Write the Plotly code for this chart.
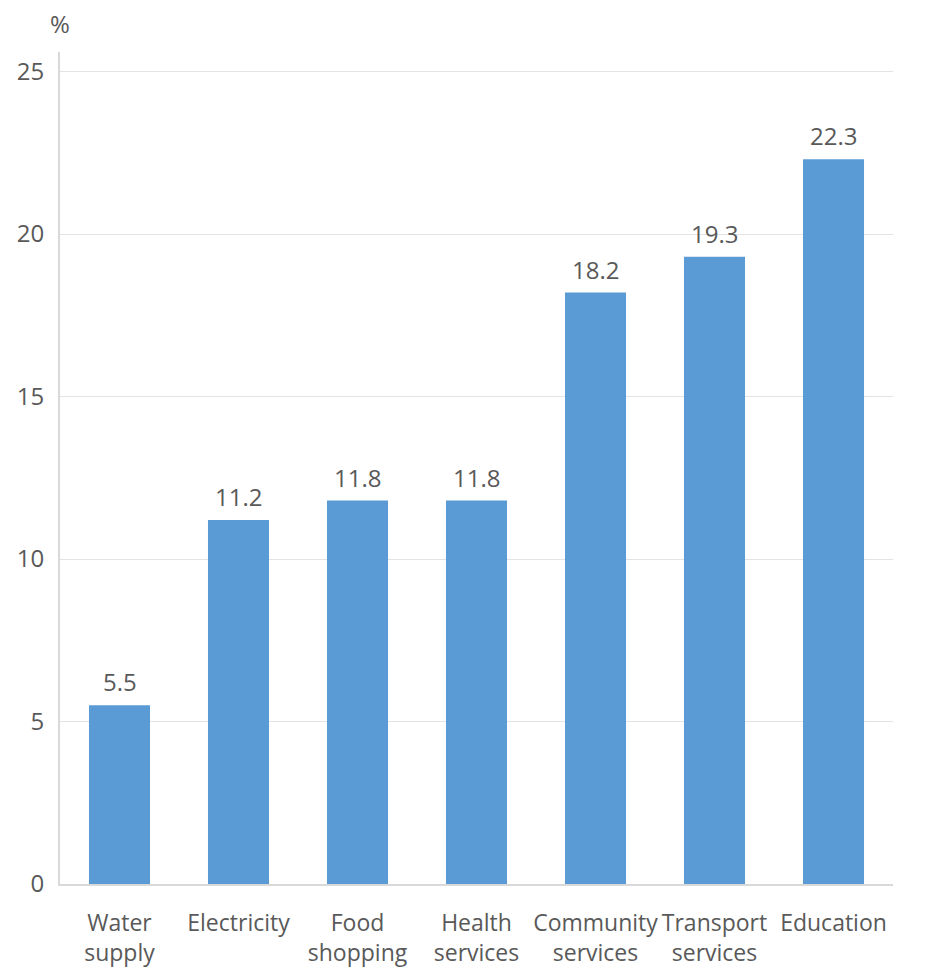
import plotly.graph_objects as go

# Share of respondents reporting each service problem (%)
categories = ["Water<br>supply", "Electricity", "Food<br>shopping", "Health<br>services",
              "Community<br>services", "Transport<br>services", "Education"]
values = [5.5, 11.2, 11.8, 11.8, 18.2, 19.3, 22.3]
value_labels = ["5.5", "11.2", "11.8", "11.8", "18.2", "19.3", "22.3"]
y_ticks = [0, 5, 10, 15, 20, 25]

FONT = "Open Sans"
TEXT_COLOR = "#595959"

fig = go.Figure(
    go.Bar(
        x=categories,
        y=values,
        marker=dict(color="#5B9BD5", line=dict(width=0)),
        width=0.513,
    )
)

# value labels sitting above each bar
label_annotations = [
    dict(x=c, y=v, text=t, xref="x", yref="y", showarrow=False,
         xanchor="center", yanchor="bottom", yshift=5,
         font=dict(family=FONT, size=24, color=TEXT_COLOR))
    for c, v, t in zip(categories, values, value_labels)
]

fig.update_layout(
    width=932,
    height=969,
    margin=dict(l=60, r=39, t=52, b=85),
    plot_bgcolor="white",
    paper_bgcolor="white",
    showlegend=False,
    font=dict(family=FONT, color=TEXT_COLOR),
    xaxis=dict(
        type="category",
        range=[-0.5, 6.5],
        showgrid=False,
        showline=True,
        linecolor="#d9d9d9",
        linewidth=2,
        tickfont=dict(family=FONT, size=23, color=TEXT_COLOR),
        tickangle=0,
        ticks="",
        ticklabelstandoff=17,
        automargin=False,
    ),
    yaxis=dict(
        range=[0, 25.6],
        tickvals=y_ticks,
        showgrid=True,
        gridcolor="#e3e3e3",
        gridwidth=1,
        showline=True,
        linecolor="#d9d9d9",
        linewidth=2,
        zeroline=False,
        ticks="",
        ticklabelstandoff=9,
        tickfont=dict(family=FONT, size=24, color=TEXT_COLOR),
        automargin=False,
    ),
    annotations=label_annotations + [
        dict(text="%", xref="paper", yref="paper", x=0, y=1, xanchor="right", yanchor="bottom",
             xshift=12, yshift=10, showarrow=False,
             font=dict(family=FONT, size=24, color=TEXT_COLOR)),
    ],
)

fig.write_html("out.html")
